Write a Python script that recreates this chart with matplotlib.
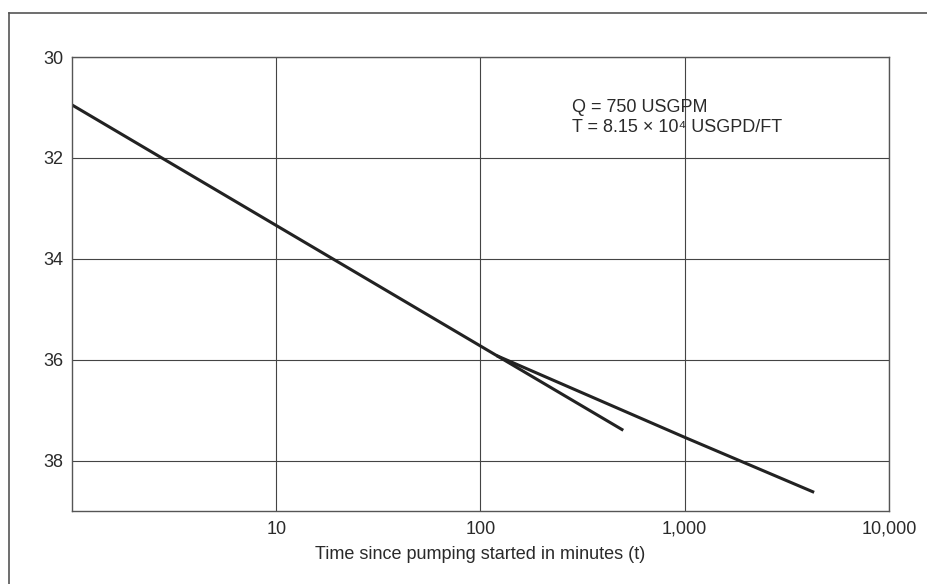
import matplotlib.pyplot as plt
from matplotlib.lines import Line2D
from matplotlib.ticker import FixedLocator, FixedFormatter, NullLocator

plt.rcParams['font.family'] = ['Liberation Sans', 'DejaVu Sans']

# Straight-line fit through early drawdown data
early_t = [1, 500]
early_s = [30.95, 37.40]

# Later segment (flatter slope)
late_t = [120, 1000, 4300]
late_s = [35.92, 37.54, 38.63]

x_ticks = [10, 100, 1000, 10000]
x_labels = ["10", "100", "1,000", "10,000"]
y_ticks = [30, 32, 34, 36, 38]

ink = "#2a2a2a"
grid_c = "#444444"

fig = plt.figure(figsize=(9.28, 5.84), dpi=100)
ax = fig.add_axes([72 / 928, 73 / 584, 817 / 928, 454 / 584])

ax.plot(early_t, early_s, color="#222222", linewidth=2.2, solid_capstyle="butt")
ax.plot(late_t, late_s, color="#222222", linewidth=2.2, solid_capstyle="butt")

ax.set_xscale("log")
ax.set_xlim(1, 10000)
ax.set_ylim(39, 30)

ax.xaxis.set_major_locator(FixedLocator(x_ticks))
ax.xaxis.set_major_formatter(FixedFormatter(x_labels))
ax.xaxis.set_minor_locator(NullLocator())
ax.set_yticks(y_ticks)

ax.grid(True, color=grid_c, linewidth=0.8)
ax.tick_params(length=0, labelsize=13, labelcolor=ink)
ax.tick_params(axis="x", pad=7)
ax.tick_params(axis="y", pad=6)
for sp in ax.spines.values():
    sp.set_color("#555555")
    sp.set_linewidth(1.0)

ax.set_xlabel("Time since pumping started in minutes (t)", fontsize=13,
              color=ink, labelpad=6)

ax.text(0.612, 0.879, "Q = 750 USGPM", transform=ax.transAxes,
        fontsize=13, color=ink, va="baseline")
ax.text(0.612, 0.834, "T = 8.15 \u00d7 10\u2074 USGPD/FT", transform=ax.transAxes,
        fontsize=13, color=ink, va="baseline")

# outer frame of the figure panel
fig.add_artist(Line2D([9 / 928, 1], [1 - 13 / 584, 1 - 13 / 584],
                      transform=fig.transFigure, color="#555555", linewidth=1.2))
fig.add_artist(Line2D([9 / 928, 9 / 928], [0, 1 - 13 / 584],
                      transform=fig.transFigure, color="#555555", linewidth=1.2))

fig.savefig("out.png", dpi=100)
